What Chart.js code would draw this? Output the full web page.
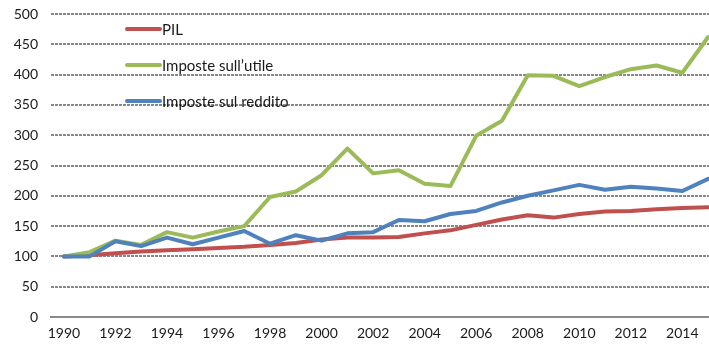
<!DOCTYPE html>
<html>
<head>
<meta charset="utf-8">
<script src="https://cdn.jsdelivr.net/npm/chart.js@4"></script>
<style>
  html, body { margin: 0; padding: 0; background: #fff; overflow: hidden; }
  #wrap { width: 722px; height: 345px; }
</style>
</head>
<body>
<div id="wrap"><canvas id="chart"></canvas></div>
<script>
const years = [1990, 1991, 1992, 1993, 1994, 1995, 1996, 1997, 1998, 1999, 2000, 2001, 2002,
  2003, 2004, 2005, 2006, 2007, 2008, 2009, 2010, 2011, 2012, 2013, 2014, 2015];

const pil = [100, 102, 105, 108, 110, 112, 114, 116, 119, 122, 128, 131, 131,
  132, 138, 143, 152, 161, 168, 164, 170, 174, 175, 178, 180, 181];

const imposteUtile = [100, 107, 126, 119, 140, 131, 141, 150, 198, 207, 234, 278, 237,
  242, 220, 216, 299, 324, 399, 398, 381, 396, 409, 415, 403, 462];

const imposteReddito = [100, 100, 125, 117, 131, 120, 131, 142, 121, 135, 126, 138, 140,
  160, 158, 170, 175, 189, 200, 209, 218, 210, 215, 212, 208, 228];

const yTicks = [0, 50, 100, 150, 200, 250, 300, 350, 400, 450, 500];

const FONT = "Lato, 'Liberation Sans', sans-serif";

// legend drawn inside the plot, stacked vertically
const insideLegend = {
  id: "insideLegend",
  afterDraw(chart) {
    const ctx = chart.ctx;
    const order = [0, 1, 2];
    const x0 = 127, x1 = 160;
    const ys = [29, 65, 101];
    ctx.save();
    ctx.font = "15px " + FONT;
    ctx.textBaseline = "middle";
    ctx.fillStyle = "#1a1a1a";
    order.forEach((i, k) => {
      const ds = chart.data.datasets[i];
      ctx.strokeStyle = ds.borderColor;
      ctx.lineWidth = 4;
      ctx.lineCap = "round";
      ctx.beginPath();
      ctx.moveTo(x0, ys[k]);
      ctx.lineTo(x1, ys[k]);
      ctx.stroke();
      ctx.fillText(ds.label, x1 + 2, ys[k] + 1);
    });
    ctx.restore();
  }
};

const lineStyle = {
  borderWidth: 4,
  pointRadius: 0,
  tension: 0,
  fill: false,
  borderJoinStyle: "round",
  borderCapStyle: "round"
};

new Chart(document.getElementById("chart"), {
  type: "line",
  data: {
    labels: years,
    datasets: [
      Object.assign({ label: "PIL", data: pil, borderColor: "#C0504D", order: 2 }, lineStyle),
      Object.assign({ label: "Imposte sull\u2019utile", data: imposteUtile, borderColor: "#9BBB59", order: 1 }, lineStyle),
      Object.assign({ label: "Imposte sul reddito", data: imposteReddito, borderColor: "#4F81BD", order: 0 }, lineStyle)
    ]
  },
  options: {
    responsive: true,
    maintainAspectRatio: false,
    animation: false,
    layout: { padding: { top: 14, right: 1, left: 0, bottom: 0 } },
    plugins: {
      legend: { display: false },
      tooltip: { enabled: false }
    },
    scales: {
      x: {
        type: "category",
        offset: true,
        grid: { display: false, drawTicks: false },
        border: { display: true, color: "#8a8a8a", width: 2 },
        ticks: {
          autoSkip: false,
          maxRotation: 0,
          padding: 8,
          color: "#1a1a1a",
          font: { family: FONT, size: 14 },
          callback: (v, i) => (years[i] % 2 === 0 && years[i] < 2015 ? String(years[i]) : "")
        },
        afterFit: (s) => { s.height = 28; s.paddingLeft = 0; s.paddingRight = 0; }
      },
      y: {
        min: 0,
        max: 500,
        afterBuildTicks: (s) => { s.ticks = yTicks.map(v => ({ value: v })); },
        grid: { color: "#878787", lineWidth: 2, drawTicks: false },
        border: { display: false, dash: [3, 1] },
        ticks: {
          padding: 13,
          color: "#1a1a1a",
          font: { family: FONT, size: 14 }
        },
        afterFit: (s) => { s.width = 51; s.paddingTop = 0; s.paddingBottom = 0; }
      }
    }
  },
  plugins: [insideLegend]
});
</script>
</body>
</html>
